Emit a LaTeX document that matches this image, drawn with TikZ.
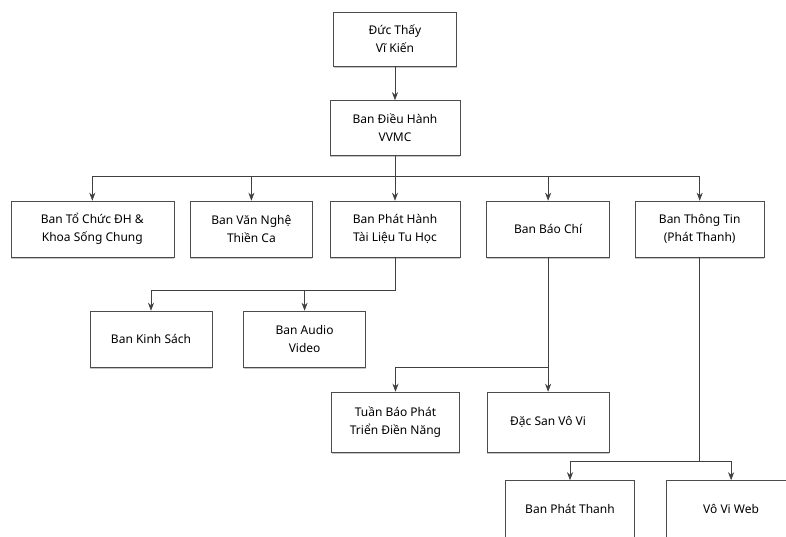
\documentclass[tikz,border=0pt]{standalone}
\usepackage{fontspec}
\setmainfont{Noto Sans}
\usepackage{tikz}
\usetikzlibrary{arrows.meta,positioning,shadows}
\tikzstyle{box}=[rectangle, draw=black!70, line width=0.6pt, fill=white, align=center, minimum height=56pt, inner sep=2pt, font=\fontsize{12}{18}\selectfont, drop shadow={shadow xshift=0pt, shadow yshift=-1.5pt, fill=black!45}]
\tikzstyle{bus}=[draw=black!75, line width=0.6pt]

\begin{document}
\begin{tikzpicture}[->,>={Stealth[length=8pt,width=6pt]}, x=1pt, y=-1pt]
  \useasboundingbox (0,0) rectangle (786,536);
%
  \node[box, minimum width=123pt, minimum height=54pt] (vk) at (395,39) {Đức Thấy\\Vĩ Kiến};
  \node[box, minimum width=130pt, minimum height=55pt] (dh) at (395,128) {Ban Điều Hành\\VVMC};
%
  \node[box, minimum width=130pt] (ph) at (395,229) {Ban Phát Hành\\Tài Liệu Tu Học};
  \node[box, minimum width=122pt] (vn) [left = 17pt of ph] {Ban Văn Nghệ\\Thiền Ca};
  \node[box, minimum width=163pt] (tc) [left = 16pt of vn] {Ban Tổ Chức ĐH \&\\Khoa Sống Chung};
  \node[box, minimum width=123pt] (bc) [right = 26pt of ph] {Ban Báo Chí};
  \node[box, minimum width=129pt] (tt) [right = 25pt of bc] {Ban Thông Tin\\(Phát Thanh)};
%
  \node[box, minimum width=122pt] (ks) at (151,339) {Ban Kinh Sách};
  \node[box, minimum width=122pt] (av) [right = 31pt of ks] {Ban Audio\\Video};
%
  \node[box, minimum width=122pt, minimum height=60pt] (ds) at (bc |- 0,422) {Đặc San Vô Vi};
  \node[box, minimum width=128pt, minimum height=60pt] (tb) [left = 27pt of ds] {Tuần Báo Phát\\Triển Điền Năng};
%
  \node[box, minimum width=129pt, minimum height=57pt] (pt) at (570,509) {Ban Phát Thanh};
  \node[box, minimum width=130pt, minimum height=57pt] (vw) [right = 31pt of pt] {Vô Vi Web};
%
  \coordinate (b1) at (0,176);
  \coordinate (b2) at (0,290);
  \coordinate (b3) at (0,367);
  \coordinate (b4) at (0,461);
%
  \draw[bus] (vk) -- (dh);
  \draw[bus] (dh) -- (ph);
  \draw[bus] (b1 -| dh) -| (tc);
  \draw[bus] (b1 -| dh) -| (vn);
  \draw[bus] (b1 -| dh) -| (bc);
  \draw[bus] (b1 -| dh) -| (tt);
%
  \draw[bus] (ph) |- (b2 -| ks) -- (ks);
  \draw[bus] (b2 -| ph) -| (av);
%
  \draw[bus] (bc) -- (ds);
  \draw[bus] (b3 -| bc) -| (tb);
%
  \draw[bus] (tt) |- (b4 -| pt) -- (pt);
  \draw[bus] (b4 -| tt) -| (vw);
\end{tikzpicture}
\end{document}
